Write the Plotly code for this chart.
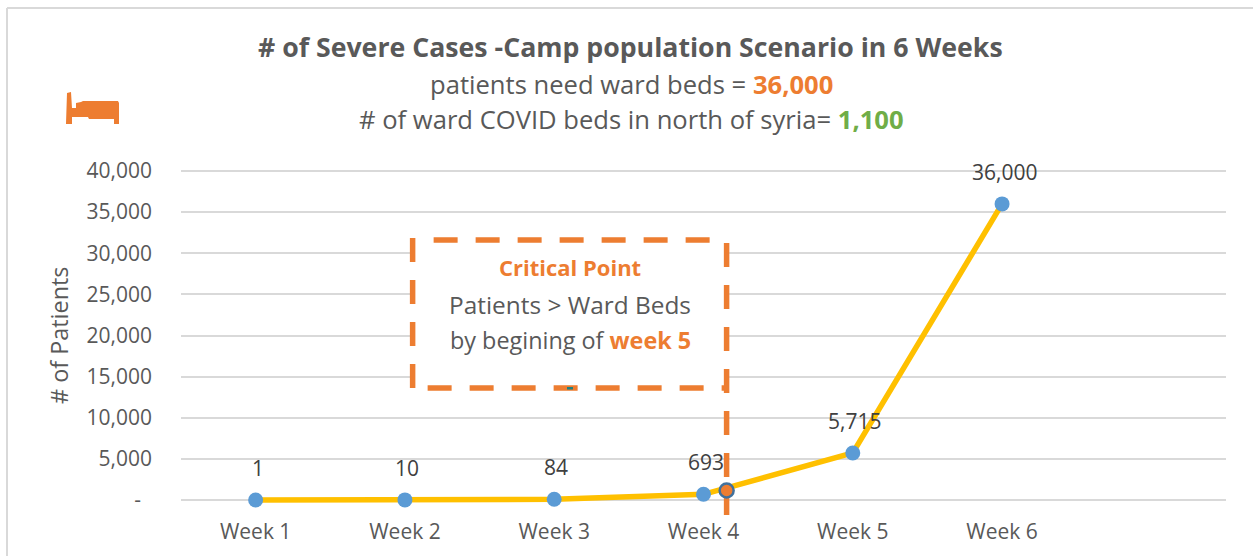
import plotly.graph_objects as go

weeks = ["Week 1", "Week 2", "Week 3", "Week 4", "Week 5", "Week 6"]
week_pos = [0, 1, 2, 3, 4, 5]
patients = [1, 10, 84, 693, 5715, 36000]
labels = ["1", "10", "84", "693", "5,715", "36,000"]
y_ticks = [0, 5000, 10000, 15000, 20000, 25000, 30000, 35000, 40000]
y_ticktext = ["-\u00a0\u00a0", "5,000", "10,000", "15,000", "20,000", "25,000", "30,000", "35,000", "40,000"]
critical_x = [3.155]
critical_y = [1150]

L, R, TOP, T, Y0, B = 181, 1226, 166, 171, 500, 518
W, H = 1253, 556
STEP = 149.3
def cx(px): return (px - 256) / STEP
def vy(py): return (Y0 - py) / (Y0 - T) * 40000
def px_x(px): return (px - L) / (R - L)
def px_y(py): return (B - py) / (B - TOP)

ORANGE = "#ed7d31"
GREY = "#595959"
FONT = "Open Sans"

fig = go.Figure()

# white box behind the callout
fig.add_trace(go.Scatter(x=[cx(413), cx(727), cx(727), cx(413), cx(413)],
                         y=[vy(240), vy(240), vy(388), vy(388), vy(240)],
                         mode="none", fill="toself", fillcolor="white",
                         hoverinfo="skip", showlegend=False))
def dashed(x0, y0, x1, y1):
    fig.add_trace(go.Scatter(x=[cx(x0), cx(x1)], y=[vy(y0), vy(y1)], mode="lines",
                             line=dict(color=ORANGE, width=5.5, dash="24px,18px"),
                             hoverinfo="skip", showlegend=False))
dashed(413, 238, 413, 390)
dashed(434, 240, 726, 240)
dashed(428, 388, 726, 388)
dashed(727, 243, 727, 515)

fig.add_trace(go.Scatter(x=week_pos, y=patients, mode="lines+markers",
                         line=dict(color="#ffc000", width=5.5),
                         marker=dict(color="#5b9bd5", size=15),
                         cliponaxis=False, showlegend=False))
fig.add_trace(go.Scatter(x=critical_x, y=critical_y, mode="markers",
                         marker=dict(color=ORANGE, size=14, line=dict(color="#41719c", width=2.5)),
                         cliponaxis=False, showlegend=False))

annotations = []
def text(px, py, s, size, color=GREY, angle=0):
    annotations.append(dict(xref="paper", yref="paper", x=px_x(px), y=px_y(py), text=s,
                            showarrow=False, xanchor="center", yanchor="middle", textangle=angle,
                            font=dict(family=FONT, size=size, color=color)))

text(630, 47, "<b># of Severe Cases -Camp population Scenario in 6 Weeks</b>", 26.7)
text(631, 84, f"patients need ward beds = <b><span style='color:{ORANGE}'>36,000</span></b>", 25.6)
text(631, 119, "# of ward COVID beds in north of syria= <b><span style='color:#70ad47'>1,100</span></b>", 25.6)
text(570, 267, "<b>Critical Point</b>", 22, ORANGE)
text(570, 304, "Patients &gt; Ward Beds", 24.4)
text(570, 340, f"by begining of <b><span style='color:{ORANGE}'>week 5</span></b>", 23.4)
text(59, 336, "# of Patients", 23.4, GREY, -90)
for x, y, s in zip(week_pos, patients, labels):
    annotations.append(dict(xref="x", yref="y", x=x, y=y, text=s, showarrow=False,
                            yshift=32, xshift=2, font=dict(family=FONT, size=21, color="#404040")))

def poly(pts):
    return "M " + " L ".join(f"{px_x(a):.5f},{px_y(b):.5f}" for a, b in pts) + " Z"

bed = [(67, 93), (71, 92), (72, 108), (76, 108), (76, 103), (81, 102), (83, 101), (118, 101), (119, 103),
       (119, 124), (114, 124), (114, 119), (89, 119), (88, 117), (72, 117), (72, 124), (66, 124)]

shapes = [
    dict(type="line", xref="paper", yref="paper", x0=px_x(7), x1=px_x(7), y0=px_y(8), y1=px_y(556),
         line=dict(color="#d9d9d9", width=2)),
    dict(type="line", xref="paper", yref="paper", x0=px_x(7), x1=px_x(1253), y0=px_y(8), y1=px_y(8),
         line=dict(color="#d9d9d9", width=2)),
    dict(type="path", xref="paper", yref="paper", path=poly(bed), fillcolor=ORANGE, line=dict(width=0)),
    dict(type="rect", xref="paper", yref="paper", x0=px_x(567), x1=px_x(573), y0=px_y(387), y1=px_y(389.5),
         fillcolor="#1f7f7f", line=dict(width=0)),
]

fig.update_layout(
    width=W, height=H, autosize=False,
    margin=dict(l=L, r=W - R, t=TOP, b=H - B, pad=0),
    paper_bgcolor="white", plot_bgcolor="white", showlegend=False,
    annotations=annotations, shapes=shapes,
    xaxis=dict(range=[-0.5, 6.5], tickmode="array", tickvals=week_pos, ticktext=weeks,
               automargin=False, showgrid=False, zeroline=False, showline=False, ticks="", ticklabelstandoff=-1,
               tickfont=dict(family=FONT, size=21, color=GREY)),
    yaxis=dict(range=[vy(B), vy(TOP)], tickmode="array", tickvals=y_ticks, ticktext=y_ticktext,
               automargin=False, showgrid=True, gridcolor="#d9d9d9", gridwidth=2, zeroline=False, showline=False,
               ticks="", ticklabelstandoff=28,
               tickfont=dict(family=FONT, size=21, color=GREY)),
)
fig.write_html("out.html", post_script="document.body.style.margin='0';", config={"displayModeBar": False})
